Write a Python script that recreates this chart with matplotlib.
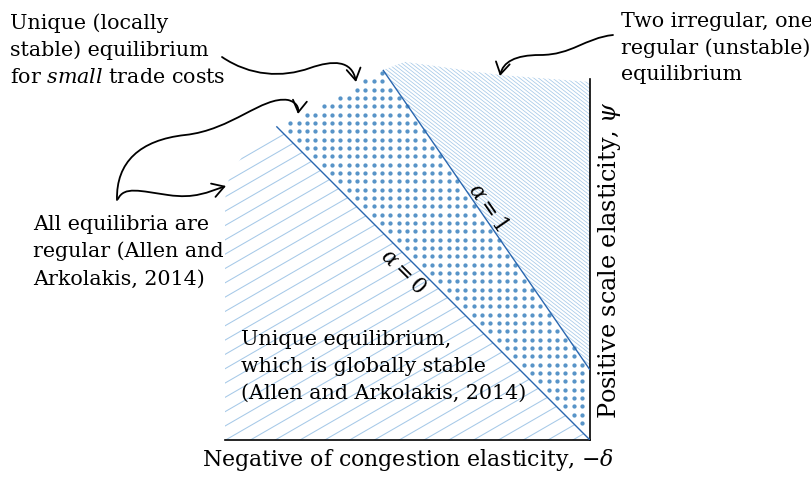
import numpy as np
import matplotlib
matplotlib.use("Agg")
import matplotlib.pyplot as plt
import matplotlib.transforms as mtransforms
from matplotlib.path import Path
from matplotlib.patches import PathPatch, FancyArrowPatch
from matplotlib.collections import LineCollection

# ---------------------------------------------------------------- data
# Regime boundaries in the (-delta, psi) plane: psi = intercept - slope * x
alpha_names = [r"$\alpha = 0$", r"$\alpha = 1$"]
alpha_intercept = [0.0, 0.192]
alpha_slope = [1.0, 1.449]

x_label = r"Negative of congestion elasticity, $-\delta$"
y_label = r"Positive scale elasticity, $\psi$"

note_small = ["Unique (locally", "stable) equilibrium",
              r"for $\mathit{small}$ trade costs"]
note_irregular = ["Two irregular, one", "regular (unstable)", "equilibrium"]
note_regular = ["All equilibria are", "regular (Allen and", "Arkolakis, 2014)"]
note_unique = ["Unique equilibrium,", "which is globally stable",
               "(Allen and Arkolakis, 2014)"]

# soft outer edge of the shaded regimes
fade_x = [-1.0, -0.992, -0.973, -0.923, -0.858, -0.767, -0.677, -0.567,
          -0.507, -0.247, 0.0]
fade_y = [0.658, 0.707, 0.748, 0.816, 0.860, 0.904, 0.951, 1.014,
          1.036, 1.000, 0.981]

# ---------------------------------------------------------------- style
W, H = 812, 478
PX = 365.0                      # pixels per data unit
HATCH = "#a6c9e8"
DOT = "#5894c8"
EDGE = "#2a67b0"

plt.rcParams["font.family"] = ["DejaVu Serif"]
plt.rcParams["mathtext.fontset"] = "dejavuserif"
FS = 14.9

fig = plt.figure(figsize=(W / 100, H / 100), dpi=100)
ax = fig.add_axes([225 / W, 38 / H, 365 / W, 380 / H])
ax.set_xlim(-1, 0)
ax.set_ylim(0, 380 / PX)
ax.set_xticks([])
ax.set_yticks([])
for s in ("top", "left"):
    ax.spines[s].set_visible(False)
ax.spines["bottom"].set_linewidth(1.2)
ax.spines["right"].set_linewidth(1.2)
ax.spines["right"].set_bounds(0, 0.99)
ax.patch.set_alpha(0)

px = mtransforms.Affine2D().scale(1 / W, -1 / H).translate(0, 1) + fig.transFigure


def boundary(i, x):
    return alpha_intercept[i] - alpha_slope[i] * x


xs = np.linspace(-1, 0, 3001)
env = np.interp(xs, fade_x, fade_y)
b0 = boundary(0, xs)
b1 = boundary(1, xs)


def region(lo, hi):
    m = hi > lo
    x = xs[m]
    verts = np.concatenate([np.column_stack([x, lo[m]]),
                            np.column_stack([x[::-1], hi[m][::-1]])])
    return Path(np.vstack([verts, verts[:1]]), closed=True)


def hatch(path, angle, spacing_px, color, lw):
    th = np.deg2rad(angle)
    d = np.array([np.cos(th), np.sin(th)])
    n = np.array([-np.sin(th), np.cos(th)])
    offs = np.arange(-3, 3, spacing_px / PX)
    segs = [[o * n - 3 * d, o * n + 3 * d] for o in offs]
    lc = LineCollection(segs, colors=color, linewidths=lw)
    clip = PathPatch(path, transform=ax.transData, facecolor="none",
                     edgecolor="none")
    ax.add_patch(clip)
    lc.set_clip_path(clip)
    ax.add_collection(lc)


left_path = region(np.zeros_like(xs), np.minimum(env, b0))
mid_path = region(b0, np.minimum(env, b1))
right_path = region(b1, env)

hatch(left_path, 30, 12.4, HATCH, 0.75)
hatch(right_path, -38, 2.9, HATCH, 0.55)

# dotted middle regime
sp = 8.33 / PX
gx, gy = np.meshgrid(-8 / PX - sp * np.arange(60), 17 / PX + sp * np.arange(60))
pts = np.column_stack([gx.ravel(), gy.ravel()])
pts = pts[mid_path.contains_points(pts, radius=-0.004)]
ax.scatter(pts[:, 0], pts[:, 1], s=9.5, color=DOT, linewidths=0, zorder=2)

# alpha boundaries, drawn up to the faded edge
for i in range(2):
    b = boundary(i, xs)
    x_end = xs[np.where(b >= env)[0].max()]
    ax.plot([x_end, 0], [boundary(i, x_end), boundary(i, 0)], color=EDGE,
            lw=1.0, zorder=3, solid_capstyle="butt")

# sloped labels on the boundaries
fig.text(403, 272, alpha_names[0], transform=px, fontsize=15.5, rotation=-45,
         ha="center", va="center", rotation_mode="anchor")
fig.text(488, 207, alpha_names[1], transform=px, fontsize=15.5, rotation=-55.4,
         ha="center", va="center", rotation_mode="anchor")

# axis titles
fig.text(408, 466, x_label, transform=px, fontsize=15.8, ha="center",
         va="baseline")
fig.text(616, 260, y_label, transform=px, fontsize=17.2, ha="center",
         va="baseline", rotation=90, rotation_mode="anchor")


def note(lines, x, y0, step):
    for k, s in enumerate(lines):
        fig.text(x, y0 + k * step, s, transform=px, fontsize=FS,
                 ha="left", va="baseline")


note(note_small, 10, 29, 27)
note(note_irregular, 621, 27, 26.5)
note(note_regular, 33, 230, 27.5)
note(note_unique, 241, 345, 27)


def arrow(segments):
    verts = [segments[0]]
    codes = [Path.MOVETO]
    for seg in segments[1:]:
        verts += list(seg)
        codes += [Path.CURVE4] * 3
    fig.add_artist(FancyArrowPatch(path=Path(verts, codes), transform=px,
                                   arrowstyle="->,head_length=0.6,head_width=0.36",
                                   mutation_scale=14, lw=1.3, color="black",
                                   shrinkA=0, shrinkB=0))


arrow([(222, 57), ((250, 76), (282, 78), (310, 68)),
       ((333, 60), (352, 60), (356, 82))])
arrow([(117, 200), ((116, 162), (140, 140), (185, 135)),
       ((232, 130), (262, 96), (288, 100)),
       ((296, 102), (299, 107), (298, 114))])
arrow([(118, 199), ((124, 186), (140, 191), (168, 195)),
       ((195, 199), (208, 192), (226, 186))])
arrow([(613, 35), ((585, 38), (572, 55), (540, 55)),
       ((515, 55), (503, 62), (500, 76))])

fig.savefig("out.png", dpi=100)
